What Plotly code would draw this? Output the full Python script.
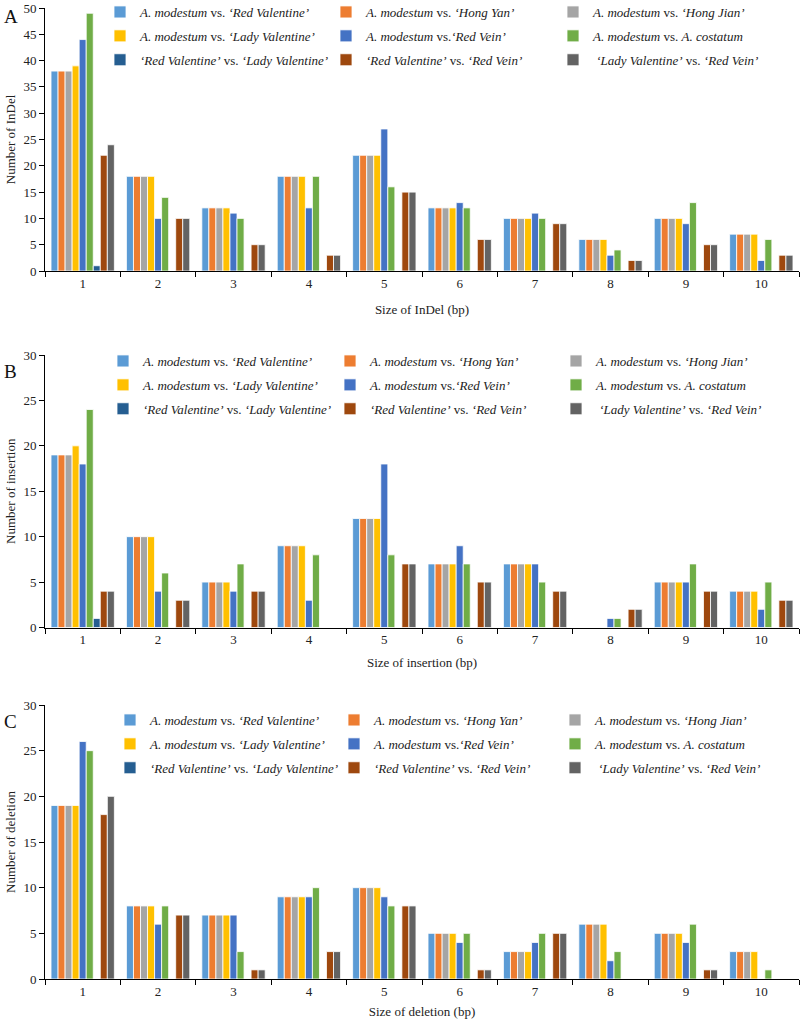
import plotly.graph_objects as go

# ---------------- data ----------------
categories = ["1", "2", "3", "4", "5", "6", "7", "8", "9", "10"]

series_names = [
    "<i>A. modestum</i> vs. <i>‘Red Valentine’</i>",
    "<i>A. modestum</i> vs. <i>‘Hong Yan’</i>",
    "<i>A. modestum</i> vs. <i>‘Hong Jian’</i>",
    "<i>A. modestum</i> vs. <i>‘Lady Valentine’</i>",
    "<i>A. modestum</i> vs.<i>‘Red Vein’</i>",
    "<i>A. modestum</i> vs. <i>A. costatum</i>",
    "<i>‘Red Valentine’</i> vs. <i>‘Lady Valentine’</i>",
    "<i>‘Red Valentine’</i> vs. <i>‘Red Vein’</i>",
    " <i>‘Lady Valentine’</i> vs. <i>‘Red Vein’</i>",
]

series_colors = ["#5B9BD5", "#ED7D31", "#A5A5A5", "#FFC000", "#4472C4",
                 "#70AD47", "#255E91", "#9E480E", "#636363"]

# InDel counts (one list per series, values for sizes 1..10)
indel_red_valentine = [38, 18, 12, 18, 22, 12, 10, 6, 10, 7]
indel_hong_yan = [38, 18, 12, 18, 22, 12, 10, 6, 10, 7]
indel_hong_jian = [38, 18, 12, 18, 22, 12, 10, 6, 10, 7]
indel_lady_valentine = [39, 18, 12, 18, 22, 12, 10, 6, 10, 7]
indel_red_vein = [44, 10, 11, 12, 27, 13, 11, 3, 9, 2]
indel_costatum = [49, 14, 10, 18, 16, 12, 10, 4, 13, 6]
indel_rv_lv = [1, 0, 0, 0, 0, 0, 0, 0, 0, 0]
indel_rv_rvein = [22, 10, 5, 3, 15, 6, 9, 2, 5, 3]
indel_lv_rvein = [24, 10, 5, 3, 15, 6, 9, 2, 5, 3]

# Insertion counts
ins_red_valentine = [19, 10, 5, 9, 12, 7, 7, 0, 5, 4]
ins_hong_yan = [19, 10, 5, 9, 12, 7, 7, 0, 5, 4]
ins_hong_jian = [19, 10, 5, 9, 12, 7, 7, 0, 5, 4]
ins_lady_valentine = [20, 10, 5, 9, 12, 7, 7, 0, 5, 4]
ins_red_vein = [18, 4, 4, 3, 18, 9, 7, 1, 5, 2]
ins_costatum = [24, 6, 7, 8, 8, 7, 5, 1, 7, 5]
ins_rv_lv = [1, 0, 0, 0, 0, 0, 0, 0, 0, 0]
ins_rv_rvein = [4, 3, 4, 0, 7, 5, 4, 2, 4, 3]
ins_lv_rvein = [4, 3, 4, 0, 7, 5, 4, 2, 4, 3]

# Deletion counts
del_red_valentine = [19, 8, 7, 9, 10, 5, 3, 6, 5, 3]
del_hong_yan = [19, 8, 7, 9, 10, 5, 3, 6, 5, 3]
del_hong_jian = [19, 8, 7, 9, 10, 5, 3, 6, 5, 3]
del_lady_valentine = [19, 8, 7, 9, 10, 5, 3, 6, 5, 3]
del_red_vein = [26, 6, 7, 9, 9, 4, 4, 2, 4, 0]
del_costatum = [25, 8, 3, 10, 8, 5, 5, 3, 6, 1]
del_rv_lv = [0, 0, 0, 0, 0, 0, 0, 0, 0, 0]
del_rv_rvein = [18, 7, 1, 3, 8, 1, 5, 0, 1, 0]
del_lv_rvein = [20, 7, 1, 3, 8, 1, 5, 0, 1, 0]

indel_series = [indel_red_valentine, indel_hong_yan, indel_hong_jian, indel_lady_valentine,
                indel_red_vein, indel_costatum, indel_rv_lv, indel_rv_rvein, indel_lv_rvein]
ins_series = [ins_red_valentine, ins_hong_yan, ins_hong_jian, ins_lady_valentine,
              ins_red_vein, ins_costatum, ins_rv_lv, ins_rv_rvein, ins_lv_rvein]
del_series = [del_red_valentine, del_hong_yan, del_hong_jian, del_lady_valentine,
              del_red_vein, del_costatum, del_rv_lv, del_rv_rvein, del_lv_rvein]

# ---------------- layout config ----------------
W, H = 800, 1021
FONT = "Liberation Serif, Times New Roman, serif"

def py(px):  # pixel row -> paper y
    return 1 - px / H

def pxx(px):
    return px / W

panels = [
    dict(series=indel_series, ymax=50, ytitle="Number of InDel", xtitle="Size of InDel (bp)",
         letter="A", top=8, bottom=271, letter_y=17, legend_top=-3, legend_x=[100, 326, 553],
         xstand=15),
    dict(series=ins_series, ymax=30, ytitle="Number of insertion", xtitle="Size of insertion (bp)",
         letter="B", top=355, bottom=627.5, letter_y=372, legend_top=346, legend_x=[103, 330, 556],
         xstand=11),
    dict(series=del_series, ymax=30, ytitle="Number of deletion", xtitle="Size of deletion (bp)",
         letter="C", top=705, bottom=979, letter_y=721, legend_top=705, legend_x=[110, 334, 555],
         xstand=9),
]

fig = go.Figure()
layout = dict(
    width=W, height=H,
    margin=dict(l=0, r=0, t=0, b=0, autoexpand=False),
    paper_bgcolor="white", plot_bgcolor="white",
    barmode="group", bargap=0.16, bargroupgap=0.0,
    font=dict(family=FONT, size=13, color="#222222"),
    annotations=[],
)

x_left, x_right = 45, 799
for p, cfg in enumerate(panels):
    sfx = "" if p == 0 else str(p + 1)
    for i, vals in enumerate(cfg["series"]):
        col = i % 3
        lnum = p * 3 + col + 1
        lid = "legend" if lnum == 1 else f"legend{lnum}"
        fig.add_trace(go.Bar(
            x=categories, y=vals, name=series_names[i],
            marker=dict(color=series_colors[i], line=dict(color="white", width=0.8)),
            xaxis="x" + sfx, yaxis="y" + sfx,
            legend=lid, legendgroup=f"p{p}s{i}",
            hovertemplate="%{x} bp: %{y}<extra></extra>",
        ))
    for col in range(3):
        lnum = p * 3 + col + 1
        lid = "legend" if lnum == 1 else f"legend{lnum}"
        layout[lid] = dict(
            x=pxx(cfg["legend_x"][col]), y=py(cfg["legend_top"]),
            xanchor="left", yanchor="top", orientation="v",
            bgcolor="rgba(0,0,0,0)", borderwidth=0,
            font=dict(family=FONT, size=13, color="#222222"),
            tracegroupgap=4, itemwidth=30,
        )
    layout["xaxis" + sfx] = dict(
        domain=[pxx(x_left), pxx(x_right)], anchor="y" + sfx,
        type="category", tickson="boundaries", ticks="outside", ticklen=5,
        tickcolor="#000000", showline=True, linecolor="#000000", linewidth=1,
        showgrid=False, tickfont=dict(family=FONT, size=13, color="#222222"),
        title=dict(text=cfg["xtitle"], font=dict(family=FONT, size=13, color="#222222"),
                   standoff=cfg["xstand"]),
        automargin=False,
    )
    layout["yaxis" + sfx] = dict(
        domain=[py(cfg["bottom"]), py(cfg["top"])], anchor="x" + sfx,
        range=[0, cfg["ymax"]], dtick=5, ticks="outside", ticklen=5,
        tickcolor="#000000", showline=True, linecolor="#000000", linewidth=1,
        showgrid=False, zeroline=False, tickfont=dict(family=FONT, size=13, color="#222222"),
        ticklabeloverflow="allow",
        title=dict(text=cfg["ytitle"], font=dict(family=FONT, size=13, color="#222222"), standoff=4),
        automargin=False,
    )
    layout["annotations"].append(dict(
        text=cfg["letter"], x=pxx(2), y=py(cfg["letter_y"]), xref="paper", yref="paper",
        xanchor="left", yanchor="middle", showarrow=False,
        font=dict(family=FONT, size=19, color="#111111"),
    ))

fig.update_layout(**layout)
fig.write_html(
    "out.html",
    config={"displayModeBar": False},
    post_script="document.body.style.margin='0';document.body.style.overflow='hidden';",
)
